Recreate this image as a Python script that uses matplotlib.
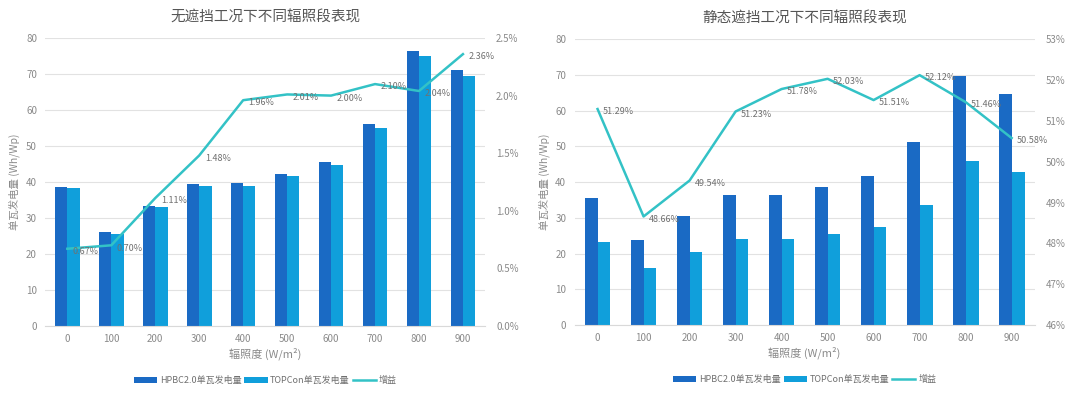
import numpy as np
import matplotlib
matplotlib.use("Agg")
import matplotlib.pyplot as plt
from matplotlib.ticker import FuncFormatter

plt.rcParams['font.family'] = ['Noto Sans CJK SC', 'DejaVu Sans']

irradiance = ['0', '100', '200', '300', '400', '500', '600', '700', '800', '900']

# 无遮挡
hpbc_open = [38.7, 26.0, 33.3, 39.5, 39.8, 42.3, 45.6, 56.0, 76.4, 71.2]
topcon_open = [38.4, 25.5, 33.0, 39.0, 39.0, 41.6, 44.7, 54.9, 74.9, 69.4]
gain_open = [0.67, 0.70, 1.11, 1.48, 1.96, 2.01, 2.00, 2.10, 2.04, 2.36]

# 静态遮挡
hpbc_shade = [35.6, 23.8, 30.6, 36.4, 36.5, 38.6, 41.7, 51.1, 69.7, 64.6]
topcon_shade = [23.3, 15.9, 20.4, 24.1, 24.0, 25.4, 27.5, 33.7, 46.0, 42.8]
gain_shade = [51.29, 48.66, 49.54, 51.23, 51.78, 52.03, 51.51, 52.12, 51.46, 50.58]

C_DARK = '#1a6ac4'
C_LIGHT = '#109fdb'
C_LINE = '#33c2c6'
C_TEXT = '#8a8a8a'
C_GRID = '#e2e2e2'

fig = plt.figure(figsize=(10.8, 3.96), dpi=100)


def draw(rect, title, hpbc, topcon, gain, g_lim, g_ticks, g_fmt):
    ax = fig.add_axes(rect)
    x = np.arange(len(irradiance))
    w = 0.28
    b1 = ax.bar(x - w / 2, hpbc, w, color=C_DARK, zorder=2)
    b2 = ax.bar(x + w / 2, topcon, w, color=C_LIGHT, zorder=2)
    ax.set_xlim(-0.5, len(irradiance) - 0.5)
    ax.set_ylim(0, 80)
    ax.set_yticks(range(0, 81, 10))
    ax.set_xticks(x)
    ax.set_xticklabels(irradiance)
    ax.grid(axis='y', color=C_GRID, linewidth=0.8, zorder=0)
    for s in ['top', 'left', 'right']:
        ax.spines[s].set_visible(False)
    ax.spines['bottom'].set_color('#d9d9d9')
    ax.tick_params(colors=C_TEXT, labelsize=7, length=0, pad=6)
    ax.set_xlabel('辐照度 (W/m²)', color=C_TEXT, fontsize=8, labelpad=2)
    ax.set_ylabel('单瓦发电量 (Wh/Wp)', color=C_TEXT, fontsize=7.5, labelpad=4)
    ax.set_title(title, color='#555555', fontsize=10.5, pad=12)

    ax2 = ax.twinx()
    ln, = ax2.plot(x, gain, color=C_LINE, linewidth=1.8, zorder=3)
    ax2.set_ylim(*g_lim)
    ax2.set_yticks(g_ticks)
    ax2.yaxis.set_major_formatter(FuncFormatter(g_fmt))
    ax2.tick_params(colors=C_TEXT, labelsize=7, length=0, pad=8)
    for s in ['top', 'left', 'right', 'bottom']:
        ax2.spines[s].set_visible(False)
    for xi, g in zip(x, gain):
        ax2.annotate('%.2f%%' % g, (xi, g), xytext=(4, -2), textcoords='offset points',
                     fontsize=6.5, color='#707070', va='center', ha='left')

    ax.legend([b1, b2, ln], ['HPBC2.0单瓦发电量', 'TOPCon单瓦发电量', '增益'],
              loc='center', bbox_to_anchor=(0.5, -0.19), ncol=3, frameon=False,
              fontsize=6.5, labelcolor='#707070', handlelength=2.6, handleheight=0.7,
              columnspacing=0.3, handletextpad=0.3)


draw([0.042, 0.177, 0.407, 0.727], '无遮挡工况下不同辐照段表现',
     hpbc_open, topcon_open, gain_open, (0, 2.5), np.arange(0, 2.51, 0.5),
     lambda v, p: '%.1f%%' % v)
draw([0.532, 0.179, 0.426, 0.722], '静态遮挡工况下不同辐照段表现',
     hpbc_shade, topcon_shade, gain_shade, (46, 53), range(46, 54),
     lambda v, p: '%d%%' % v)

fig.savefig('out.png', dpi=100, facecolor='white')
